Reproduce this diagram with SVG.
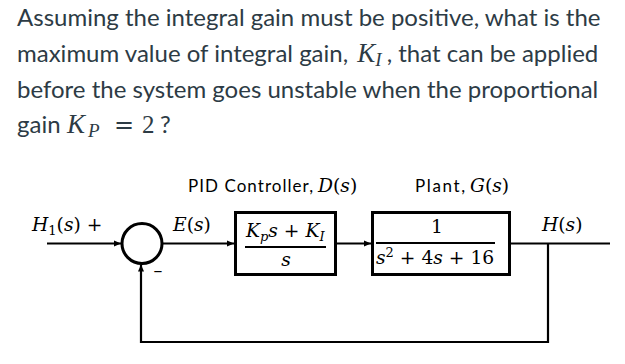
<svg xmlns="http://www.w3.org/2000/svg" width="625" height="364" viewBox="0 0 625 364">
<style>
.q{font-family:Lato,"Open Sans",sans-serif;font-size:24px;fill:#2d3b45}
.qm{font-family:"Liberation Serif",serif;font-style:italic;font-size:27px;fill:#2d3b45}
.qs{font-family:"Liberation Serif",serif;font-style:italic;font-size:19px;fill:#2d3b45}
.qn{font-family:"Liberation Serif",serif;font-size:25px;fill:#2d3b45}
.lb{font-family:Lato,"Open Sans",sans-serif;font-size:17px;fill:#000}
.m{font-family:"DejaVu Serif",serif;font-style:italic;font-size:18.7px;fill:#000}
.mu{font-style:normal}
.sub{font-size:13px}
.ln{stroke:#000;stroke-width:2.2;fill:none}
.box{stroke:#000;stroke-width:3;fill:#fff}
.fr{stroke:#000;stroke-width:1.8}
</style>
<defs>
<marker id="ah" markerWidth="8" markerHeight="8" refX="7" refY="4" orient="auto" markerUnits="userSpaceOnUse">
<path d="M0,1 L7,4 L0,7 Z" fill="#000"/>
</marker>
</defs>

<g id="question">
<text class="q" x="17" y="26">Assuming the integral gain must be positive, what is the</text>
<text class="q" x="17" y="62">maximum value of integral gain, <tspan class="qm" dx="3">K</tspan><tspan class="qs" dy="4">I</tspan><tspan dy="-4" dx="5">, that can be applied</tspan></text>
<text class="q" x="17" y="98">before the system goes unstable when the proportional</text>
<text class="q" x="17" y="133">gain</text>
<text class="qm" x="67" y="133">K</text>
<text class="qs" x="88" y="137">P</text>
<text x="114" y="133" font-family="DejaVu Serif, serif" font-size="24" fill="#2d3b45">=</text>
<text class="qn" x="142" y="133">2</text>
<text class="q" x="160" y="133">?</text>
</g>

<g id="connectors">
<line class="ln" x1="47" y1="243.5" x2="121" y2="243.5" marker-end="url(#ah)"/>
<line class="ln" x1="162" y1="243.5" x2="234" y2="243.5" marker-end="url(#ah)"/>
<line class="ln" x1="336" y1="243.5" x2="371" y2="243.5" marker-end="url(#ah)"/>
<line class="ln" x1="510" y1="243.5" x2="610" y2="243.5"/>
<polyline class="ln" points="548,243.5 548,342 141,342 141,264.5" marker-end="url(#ah)"/>
</g>

<g id="input-label">
<text class="m" x="32" y="231">H<tspan class="sub mu" dy="4">1</tspan><tspan class="mu" dy="-4">(</tspan>s<tspan class="mu">)  +</tspan></text>
</g>

<g id="sum">
<circle cx="142" cy="243.5" r="20" fill="#fff" stroke="#000" stroke-width="3"/>
<text class="lb" x="153" y="277" font-size="18">−</text>
</g>

<g id="error-label">
<text class="m" x="173" y="231">E<tspan class="mu">(</tspan>s<tspan class="mu">)</tspan></text>
</g>

<g id="controller">
<text class="lb" x="188" y="192" textLength="125" lengthAdjust="spacing">PID Controller,</text>
<text class="m" x="318" y="192">D<tspan class="mu">(</tspan>s<tspan class="mu">)</tspan></text>
<rect class="box" x="235.5" y="212.5" width="100" height="62"/>
<text class="m" x="246" y="237">K<tspan class="sub" dy="4">p</tspan><tspan dy="-4">s</tspan><tspan class="mu"> + </tspan>K<tspan class="sub" dy="4">I</tspan></text>
<line class="fr" x1="245" y1="247" x2="326" y2="247"/>
<text class="m" x="286" y="266" text-anchor="middle">s</text>
</g>

<g id="plant">
<text class="lb" x="415" y="192" textLength="50" lengthAdjust="spacing">Plant,</text>
<text class="m" x="470" y="192">G<tspan class="mu">(</tspan>s<tspan class="mu">)</tspan></text>
<rect class="box" x="372.5" y="212.5" width="137" height="62"/>
<text class="m mu" x="437" y="233" text-anchor="middle">1</text>
<line class="fr" x1="376" y1="243" x2="495" y2="243"/>
<text class="m" x="376" y="264">s<tspan class="sub mu" dy="-7">2</tspan><tspan class="mu" dy="7"> + 4</tspan>s<tspan class="mu"> + 16</tspan></text>
</g>

<g id="output-label">
<text class="m" x="542" y="231">H<tspan class="mu">(</tspan>s<tspan class="mu">)</tspan></text>
</g>
</svg>
